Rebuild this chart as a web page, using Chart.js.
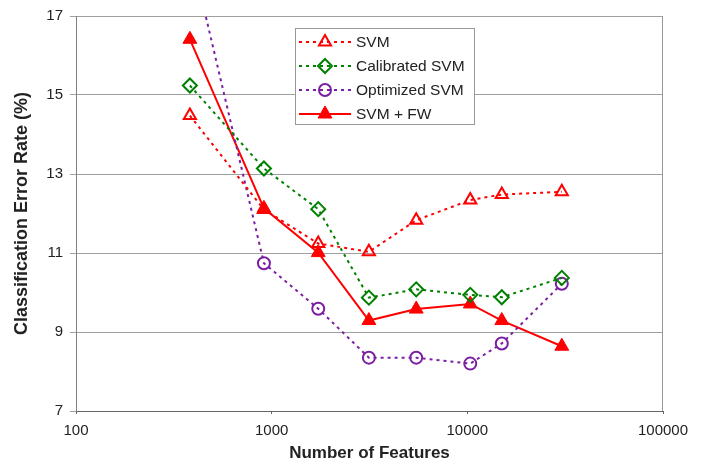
<!DOCTYPE html>
<html lang="en">
<head>
<meta charset="UTF-8">
<title>Classification Error Rate vs Number of Features</title>
<style>
  body {
    margin: 0;
    background-color: #fff;
  }
  #chart {
    display: block;
  }
</style>
<script src="https://cdn.jsdelivr.net/npm/chart.js"></script>
</head>
<body>

<canvas id="chart" width="705" height="464"></canvas>

<script>
// Data
var features = [382, 913, 1730, 3140, 5480, 10350, 15000, 30400];
var svm = [14.48, 12.1, 11.24, 11.03, 11.83, 12.34, 12.48, 12.55];
var calibratedSvm = [15.24, 13.14, 12.11, 9.87, 10.08, 9.94, 9.88, 10.37];
var optimizedSvm = [18.7, 10.74, 9.59, 8.35, 8.35, 8.2, 8.71, 10.22];
var svmFw = [16.41, 12.13, 11.01, 9.29, 9.58, 9.71, 9.29, 8.64];

var xTicks = [100, 1000, 10000, 100000];
var yTicks = [7, 9, 11, 13, 15, 17];

function points(values) {
  return values.map(function (v, i) { return { x: features[i], y: v }; });
}

Chart.defaults.font.family = "Arial, 'Liberation Sans', sans-serif";
Chart.defaults.color = '#222';

// legend box drawn inside the plot, like the original
var legendBox = {
  id: 'legendBox',
  afterDraw: function (chart) {
    var ctx = chart.ctx;
    ctx.save();
    ctx.fillStyle = '#fff';
    ctx.strokeStyle = '#999';
    ctx.lineWidth = 1;
    ctx.setLineDash([]);
    ctx.fillRect(295.5, 28.5, 179, 96);
    ctx.strokeRect(295.5, 28.5, 179, 96);

    chart.data.datasets.forEach(function (ds, i) {
      var y = 42 + i * 24;
      ctx.strokeStyle = ds.borderColor;
      ctx.lineWidth = ds.borderWidth;
      ctx.setLineDash(ds.borderDash || []);
      ctx.beginPath();
      ctx.moveTo(299, y);
      ctx.lineTo(351, y);
      ctx.stroke();
      ctx.setLineDash([]);

      ctx.fillStyle = ds.pointBackgroundColor;
      ctx.strokeStyle = ds.pointBorderColor;
      ctx.lineWidth = ds.pointBorderWidth;
      Chart.helpers.drawPoint(ctx, {
        pointStyle: ds.pointStyle,
        radius: ds.pointRadius,
        borderWidth: ds.pointBorderWidth,
        rotation: 0
      }, 325, y);

      ctx.fillStyle = '#222';
      ctx.font = "15.5px Arial, 'Liberation Sans', sans-serif";
      ctx.textBaseline = 'middle';
      ctx.textAlign = 'left';
      ctx.fillText(ds.label, 356, y + 1);
    });

    // right border of the plot area
    var a = chart.chartArea;
    ctx.strokeStyle = '#999';
    ctx.lineWidth = 1;
    ctx.beginPath();
    ctx.moveTo(Math.round(a.right) - 0.5, a.top);
    ctx.lineTo(Math.round(a.right) - 0.5, a.bottom);
    ctx.stroke();
    ctx.restore();
  }
};

new Chart(document.getElementById('chart'), {
  type: 'line',
  data: {
    datasets: [{
      label: 'SVM',
      data: points(svm),
      borderColor: '#ff0000',
      borderWidth: 2,
      borderDash: [3, 4],
      pointStyle: 'triangle',
      pointRadius: 7,
      pointBorderWidth: 2,
      pointBorderColor: '#ff0000',
      pointBackgroundColor: 'rgba(0,0,0,0)'
    }, {
      label: 'Calibrated SVM',
      data: points(calibratedSvm),
      borderColor: '#008000',
      borderWidth: 2,
      borderDash: [3, 4],
      pointStyle: 'rectRot',
      pointRadius: 7,
      pointBorderWidth: 2,
      pointBorderColor: '#008000',
      pointBackgroundColor: 'rgba(0,0,0,0)'
    }, {
      label: 'Optimized SVM',
      data: points(optimizedSvm),
      borderColor: '#7b1fa2',
      borderWidth: 2,
      borderDash: [3, 4],
      pointStyle: 'circle',
      pointRadius: 6,
      pointBorderWidth: 2,
      pointBorderColor: '#7b1fa2',
      pointBackgroundColor: 'rgba(0,0,0,0)'
    }, {
      label: 'SVM + FW',
      data: points(svmFw),
      borderColor: '#ff0000',
      borderWidth: 2,
      pointStyle: 'triangle',
      pointRadius: 8,
      pointBorderWidth: 1,
      pointBorderColor: '#ff0000',
      pointBackgroundColor: '#ff0000'
    }]
  },
  options: {
    responsive: false,
    animation: false,
    events: [],
    layout: {
      padding: { left: 0, right: 42, top: 15, bottom: 0 }
    },
    plugins: {
      legend: { display: false },
      tooltip: { enabled: false }
    },
    elements: {
      line: { tension: 0 }
    },
    scales: {
      x: {
        type: 'logarithmic',
        min: 100,
        max: 100000,
        afterBuildTicks: function (scale) {
          scale.ticks = xTicks.map(function (v) { return { value: v }; });
        },
        afterFit: function (scale) { scale.height = 53; },
        ticks: {
          font: { size: 15 },
          color: '#222',
          padding: 8,
          maxRotation: 0,
          callback: function (v) { return String(v); }
        },
        grid: {
          drawOnChartArea: false,
          drawTicks: true,
          tickLength: 3,
          color: '#666'
        },
        border: { color: '#666', width: 1 },
        title: {
          display: true,
          text: 'Number of Features',
          font: { size: 17, weight: 'bold' },
          color: '#222',
          padding: { top: 0, bottom: 0 }
        }
      },
      y: {
        min: 7,
        max: 17,
        afterBuildTicks: function (scale) {
          scale.ticks = yTicks.map(function (v) { return { value: v }; });
        },
        afterFit: function (scale) { scale.width = 76; },
        ticks: {
          font: { size: 15 },
          color: '#222',
          padding: 7
        },
        grid: {
          color: '#a0a0a0',
          tickLength: 6,
          tickColor: '#a0a0a0'
        },
        border: { color: '#808080', width: 1 },
        title: {
          display: true,
          text: 'Classification Error Rate (%)',
          font: { size: 18, weight: 'bold' },
          color: '#222',
          padding: { top: 11, bottom: 0 }
        }
      }
    }
  },
  plugins: [legendBox]
});
</script>

</body>
</html>
